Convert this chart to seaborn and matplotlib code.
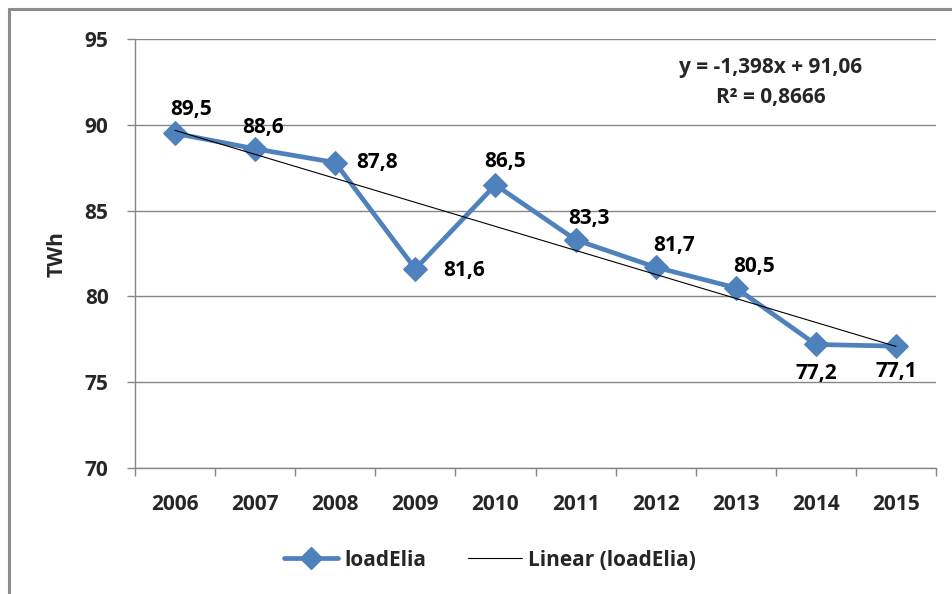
import numpy as np
import pandas as pd
import matplotlib
matplotlib.use("Agg")
import matplotlib.pyplot as plt
import seaborn as sns
from matplotlib.lines import Line2D

years = ["2006", "2007", "2008", "2009", "2010", "2011", "2012", "2013", "2014", "2015"]
load_elia = [89.5, 88.6, 87.8, 81.6, 86.5, 83.3, 81.7, 80.5, 77.2, 77.1]
value_labels = ["89,5", "88,6", "87,8", "81,6", "86,5", "83,3", "81,7", "80,5", "77,2", "77,1"]
y_ticks = [70, 75, 80, 85, 90, 95]
series_name = "loadElia"
trend_name = "Linear (loadElia)"
eq_text = "y = -1,398x + 91,06"
r2_text = "R² = 0,8666"
y_label = "TWh"

# label offsets in pixels (style)
label_offsets = [(16, 24), (8, 21), (42, 0), (49, -2), (10, 23), (13, 21), (18, 22), (18, 21), (0, -29), (0, -25)]

sns.set_theme(style="white")
plt.rcParams['font.family'] = ['Open Sans', 'DejaVu Sans']
plt.rcParams['font.weight'] = 'bold'

FS = 15
W, H = 952, 594
fig = plt.figure(figsize=(W / 100, H / 100), dpi=100)
fig.patch.set_facecolor("white")

ax_l, ax_r, ax_t, ax_b = 135, 936, 39, 468
ax = fig.add_axes([ax_l / W, 1 - ax_b / H, (ax_r - ax_l) / W, (ax_b - ax_t) / H])

df = pd.DataFrame({"idx": np.arange(len(years)), "val": load_elia})

# trend line from data
coef = np.polyfit(df["idx"] + 1, df["val"], 1)
df["trend"] = np.polyval(coef, df["idx"] + 1)

blue = "#4F81BD"
sns.lineplot(data=df, x="idx", y="val", ax=ax, color=blue, linewidth=3.4,
             marker="D", markersize=12, markeredgecolor=blue, zorder=3)
sns.lineplot(data=df, x="idx", y="trend", ax=ax, color="black", linewidth=0.8, zorder=4)

for i, (v, lab) in enumerate(zip(load_elia, value_labels)):
    dx, dy = label_offsets[i]
    ax.annotate(lab, (i, v), xytext=(dx, dy), textcoords="offset pixels",
                ha="center", va="center", fontsize=FS, fontweight="bold", color="black")

ax.set_xlim(-0.5, len(years) - 0.5)
ax.set_ylim(70, 95)
ax.set_yticks(y_ticks)
ax.set_yticklabels([str(t) for t in y_ticks], fontsize=FS, fontweight="bold")
ax.set_xticks(np.arange(len(years)))
ax.set_xticklabels(years, fontsize=FS, fontweight="bold")
ax.set_xticks(np.arange(len(years) + 1) - 0.5, minor=True)
ax.tick_params(axis="x", which="major", length=0, pad=19)
ax.tick_params(axis="x", which="minor", length=6, color="#868686", width=1, direction="out", bottom=True)
ax.tick_params(axis="y", which="major", length=6, color="#868686", width=1, direction="out", left=True, pad=13)
ax.set_xlabel("")
ax.set_ylabel(y_label, fontsize=FS, fontweight="bold")
ax.yaxis.set_label_coords((68 - ax_l) / (ax_r - ax_l), (ax_b - 254) / (ax_b - ax_t))

ax.grid(axis="y", color="#868686", linewidth=1)
ax.grid(axis="x", visible=False)
for s in ["top", "right"]:
    ax.spines[s].set_visible(False)
for s in ["left", "bottom"]:
    ax.spines[s].set_color("#868686")
    ax.spines[s].set_linewidth(1)

fig.text(771 / W, 1 - 68 / H, eq_text, ha="center", va="center", fontsize=FS, fontweight="bold")
fig.text(771 / W, 1 - 98 / H, r2_text, ha="center", va="center", fontsize=FS, fontweight="bold")

handles = [Line2D([], [], color=blue, linewidth=3.4, marker="D", markersize=11),
           Line2D([], [], color="black", linewidth=0.8)]
fig.legend(handles, [series_name, trend_name], loc="center", bbox_to_anchor=(490 / W, 1 - 560 / H),
           ncol=2, frameon=False, prop={"size": FS, "weight": "bold"}, handlelength=2.6,
           columnspacing=2.0, handletextpad=0.3)

# chart border (top and left visible)
fig.add_artist(Line2D([9 / W, 1.0], [1 - 9 / H, 1 - 9 / H], transform=fig.transFigure, color="#8c8c8c", linewidth=2.2))
fig.add_artist(Line2D([9 / W, 9 / W], [0.0, 1 - 9 / H], transform=fig.transFigure, color="#8c8c8c", linewidth=2.2))

fig.savefig("out.png", dpi=100)
